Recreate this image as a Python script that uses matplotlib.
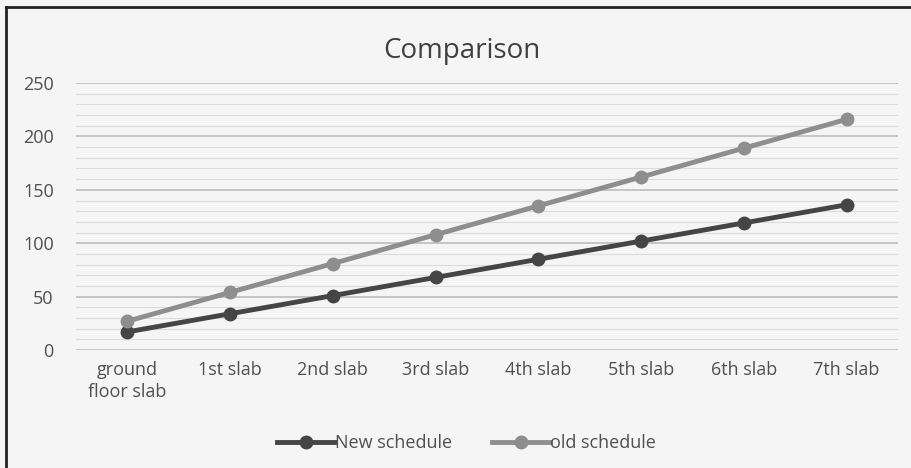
import matplotlib.pyplot as plt
from matplotlib.lines import Line2D

plt.rcParams['font.family'] = ['Open Sans', 'DejaVu Sans']

categories = ['ground\nfloor slab', '1st slab', '2nd slab', '3rd slab',
              '4th slab', '5th slab', '6th slab', '7th slab']
new_schedule = [17, 34, 51, 68, 85, 102, 119, 136]
old_schedule = [27, 54, 81, 108, 135, 162, 189, 216]

fig = plt.figure(figsize=(9.11, 4.68), dpi=100)
fig.patch.set_facecolor('#f5f5f5')
ax = fig.add_axes([0.0834, 0.252, 0.9023, 0.5706])
ax.set_facecolor('#f5f5f5')

x = range(len(categories))
ax.plot(x, new_schedule, color='#454545', lw=3.5, marker='o', ms=9, label='New schedule', zorder=3)
ax.plot(x, old_schedule, color='#8e8e8e', lw=3.5, marker='o', ms=9, label='old schedule', zorder=3)

ax.set_xlim(-0.5, len(categories) - 0.5)
ax.set_ylim(0, 250)
ax.set_yticks(range(0, 251, 50))
ax.set_yticks(range(0, 251, 10), minor=True)
ax.grid(axis='y', which='major', color='#bdbdbd', lw=1.2)
ax.grid(axis='y', which='minor', color='#dcdcdc', lw=0.8)
ax.set_axisbelow(True)
ax.set_xticks(list(x))
ax.set_xticklabels(categories, fontsize=13, color='#505050', linespacing=1.3)
ax.tick_params(axis='y', which='both', length=0, labelsize=13, labelcolor='#505050', pad=16)
ax.tick_params(axis='x', length=0, pad=8)
for s in ax.spines.values():
    s.set_visible(False)

ax.set_title('Comparison', fontsize=20, color='#404040', pad=18, x=0.47)
ax.legend(loc='center', bbox_to_anchor=(0.475, -0.348), ncol=2, frameon=False,
          fontsize=13, labelcolor='#505050', handlelength=3.2, handletextpad=0.0,
          columnspacing=2.2)

# frame lines of the original scan
fig.add_artist(Line2D([6 / 911, 1], [1 - 7 / 468, 1 - 7 / 468], color='#222222', lw=2))
fig.add_artist(Line2D([6 / 911, 6 / 911], [0, 1 - 7 / 468], color='#222222', lw=2))

fig.savefig('out.png', dpi=100, facecolor=fig.get_facecolor())
